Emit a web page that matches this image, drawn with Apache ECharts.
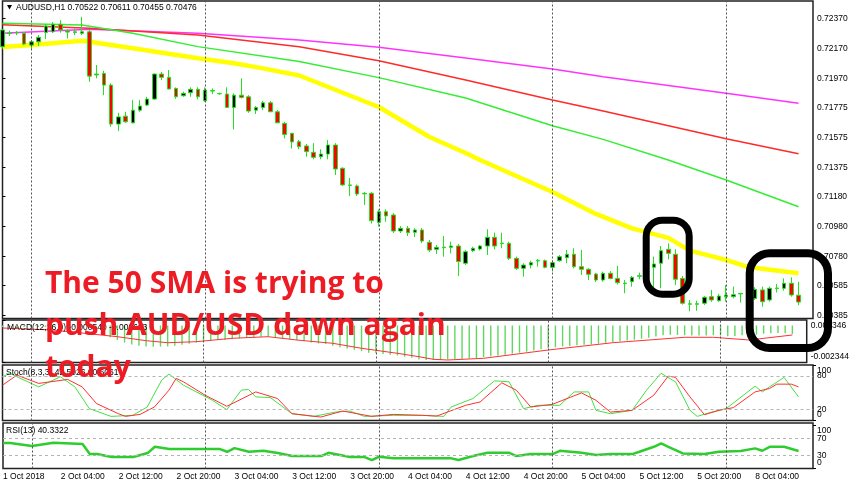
<!DOCTYPE html>
<html><head><meta charset="utf-8">
<script src="https://cdn.jsdelivr.net/npm/echarts@6/dist/echarts.min.js"></script>
<style>html,body{margin:0;padding:0;background:#fff}#c{width:852px;height:485px}</style>
</head><body><div id="c"></div>
<script>
// ---------- DATA ----------
// Hourly bars, index 0 = 1 Oct 2018 20:00 ... index 110 = 8 Oct 2018 10:00
const candles = [ // [open, close, low, high]
[0.72180,0.72292,0.72175,0.72298],[0.72268,0.72272,0.72252,0.72287],[0.72272,0.72276,0.72258,0.72285],
[0.72270,0.72198,0.72191,0.72278],[0.72191,0.72213,0.72158,0.72225],[0.72213,0.72243,0.72185,0.72258],
[0.72276,0.72318,0.72231,0.72332],[0.72280,0.72330,0.72272,0.72345],[0.72330,0.72292,0.72274,0.72358],
[0.72285,0.72278,0.72236,0.72296],[0.72276,0.72280,0.72258,0.72303],[0.72270,0.72280,0.72258,0.72380],
[0.72280,0.71984,0.71946,0.72296],[0.71998,0.71992,0.71969,0.72058],[0.72002,0.71924,0.71857,0.72020],
[0.71924,0.71664,0.71646,0.71936],[0.71664,0.71712,0.71617,0.71739],[0.71717,0.71679,0.71672,0.71746],
[0.71672,0.71757,0.71668,0.71824],[0.71757,0.71784,0.71746,0.71824],[0.71791,0.71831,0.71784,0.71846],
[0.71831,0.71998,0.71824,0.72002],[0.71998,0.71976,0.71958,0.72013],[0.71976,0.71898,0.71896,0.72025],
[0.71902,0.71846,0.71833,0.71909],[0.71853,0.71869,0.71846,0.71880],[0.71873,0.71896,0.71846,0.71909],
[0.71896,0.71846,0.71829,0.71909],[0.71819,0.71891,0.71813,0.71909],[0.71888,0.71884,0.71864,0.71902],
[0.71868,0.71866,0.71860,0.71873],[0.71864,0.71775,0.71773,0.71909],[0.71775,0.71857,0.71628,0.71869],
[0.71857,0.71842,0.71835,0.71969],[0.71846,0.71751,0.71739,0.71857],[0.71757,0.71775,0.71731,0.71784],
[0.71775,0.71806,0.71757,0.71819],[0.71806,0.71746,0.71746,0.71819],[0.71746,0.71672,0.71672,0.71757],
[0.71668,0.71595,0.71568,0.71679],[0.71602,0.71545,0.71501,0.71606],[0.71546,0.71513,0.71496,0.71558],
[0.71518,0.71480,0.71446,0.71531],[0.71476,0.71442,0.71429,0.71537],[0.71446,0.71464,0.71429,0.71496],
[0.71464,0.71524,0.71429,0.71558],[0.71524,0.71364,0.71324,0.71537],[0.71369,0.71258,0.71251,0.71375],
[0.71258,0.71254,0.71184,0.71304],[0.71251,0.71197,0.71184,0.71260],[0.71202,0.71198,0.71124,0.71210],
[0.71202,0.71019,0.71000,0.71210],[0.71008,0.71079,0.70979,0.71095],[0.71079,0.71051,0.71012,0.71095],
[0.71057,0.70950,0.70937,0.71070],[0.70950,0.70968,0.70937,0.70984],[0.70968,0.70939,0.70917,0.70984],
[0.70942,0.70957,0.70910,0.70970],[0.70957,0.70883,0.70870,0.70970],[0.70875,0.70823,0.70810,0.70890],
[0.70828,0.70841,0.70797,0.70857],[0.70843,0.70839,0.70779,0.70917],[0.70841,0.70850,0.70801,0.70879],
[0.70850,0.70746,0.70650,0.70864],[0.70735,0.70812,0.70723,0.70823],[0.70819,0.70835,0.70810,0.70845],
[0.70830,0.70850,0.70820,0.70857],[0.70850,0.70908,0.70790,0.70962],[0.70908,0.70850,0.70828,0.70939],
[0.70870,0.70866,0.70835,0.70939],[0.70868,0.70768,0.70757,0.70879],[0.70768,0.70701,0.70690,0.70779],
[0.70701,0.70723,0.70645,0.70735],[0.70723,0.70739,0.70701,0.70752],[0.70750,0.70754,0.70712,0.70763],
[0.70752,0.70708,0.70701,0.70760],[0.70708,0.70739,0.70680,0.70755],[0.70752,0.70779,0.70745,0.70790],
[0.70772,0.70795,0.70735,0.70823],[0.70795,0.70712,0.70701,0.70835],[0.70712,0.70695,0.70657,0.70823],
[0.70695,0.70661,0.70623,0.70701],[0.70663,0.70623,0.70610,0.70670],[0.70623,0.70668,0.70612,0.70679],
[0.70668,0.70634,0.70628,0.70683],[0.70634,0.70605,0.70593,0.70717],[0.70603,0.70599,0.70535,0.70623],
[0.70612,0.70641,0.70579,0.70650],[0.70648,0.70652,0.70628,0.70672],[0.70656,0.70700,0.70640,0.70712],
[0.70708,0.70730,0.70568,0.70779],[0.70735,0.70819,0.70568,0.70850],[0.70828,0.70801,0.70761,0.70868],
[0.70795,0.70628,0.70590,0.70828],[0.70634,0.70468,0.70459,0.70650],[0.70465,0.70461,0.70414,0.70490],
[0.70461,0.70465,0.70418,0.70485],[0.70468,0.70508,0.70456,0.70516],[0.70512,0.70490,0.70478,0.70557],
[0.70485,0.70516,0.70478,0.70530],[0.70512,0.70523,0.70478,0.70590],[0.70512,0.70525,0.70501,0.70579],
[0.70534,0.70530,0.70472,0.70536],[0.70530,0.70500,0.70490,0.70545],[0.70500,0.70561,0.70490,0.70575],
[0.70557,0.70478,0.70445,0.70579],[0.70490,0.70568,0.70478,0.70579],[0.70566,0.70570,0.70540,0.70597],
[0.70568,0.70601,0.70552,0.70634],[0.70601,0.70523,0.70512,0.70641],[0.70522,0.70476,0.70455,0.70611]
];
// moving averages: [bar index, value]
const smaYellow = [[0,0.72179],[4,0.72192],[11,0.72220],[12,0.72214],[18,0.72170],[27,0.72103],[32,0.72070],[36,0.72036],[41,0.71988],[52,0.71778],[59,0.71578],[64,0.71471],[66,0.71424],[76,0.71211],[82,0.71064],[87,0.70968],[92,0.70904],[95,0.70819],[100,0.70757],[103,0.70710],[110,0.70668]];
const smaGreen = [[0,0.72337],[11,0.72325],[18,0.72270],[27,0.72181],[41,0.72081],[52,0.71974],[64,0.71838],[76,0.71653],[83,0.71562],[92,0.71424],[100,0.71291],[110,0.71112]];
const smaRed = [[0,0.72327],[12,0.72303],[27,0.72259],[41,0.72180],[52,0.72087],[64,0.71958],[76,0.71825],[83,0.71751],[100,0.71566],[110,0.71466]];
const smaMagenta = [[0,0.72270],[12,0.72297],[27,0.72270],[41,0.72225],[52,0.72176],[64,0.72105],[76,0.72032],[83,0.71980],[100,0.71869],[110,0.71803]];
const bidPrice = 0.70476;
const priceTicks = [0.72370,0.72170,0.71970,0.71775,0.71575,0.71375,0.71180,0.70980,0.70780,0.70585,0.70385];

const macdHist = [-0.00010,-0.00010,-0.00010,-0.00010,-0.00010,-0.00010,-0.00009,-0.00008,-0.00008,-0.00008,-0.00008,-0.00008,
-0.00015,-0.00035,-0.00052,-0.00075,-0.00092,-0.00108,-0.00120,-0.00128,-0.00133,-0.00134,-0.00134,-0.00133,-0.00128,-0.00122,-0.00115,-0.00108,
-0.00100,-0.00095,-0.00092,-0.00092,-0.00088,-0.00082,-0.00078,-0.00074,-0.00071,-0.00072,-0.00076,-0.00082,-0.00088,-0.00093,-0.00100,-0.00108,
-0.00114,-0.00117,-0.00128,-0.00138,-0.00146,-0.00154,-0.00162,-0.00172,-0.00176,-0.00180,-0.00186,-0.00190,-0.00198,-0.00205,-0.00215,-0.00218,
-0.00219,-0.00218,-0.00215,-0.00214,-0.00212,-0.00209,-0.00206,-0.00200,-0.00195,-0.00190,-0.00185,-0.00178,-0.00172,-0.00165,-0.00158,-0.00150,
-0.00143,-0.00138,-0.00133,-0.00130,-0.00126,-0.00122,-0.00120,-0.00115,-0.00110,-0.00104,-0.00100,-0.00095,-0.00090,-0.00084,-0.00078,-0.00070,
-0.00062,-0.00058,-0.00060,-0.00062,-0.00064,-0.00064,-0.00063,-0.00062,-0.00064,-0.00068,-0.00066,-0.00062,-0.00058,-0.00058,-0.00052,-0.00050,
-0.00048,-0.00050,-0.00054];
const macdSignal = [[0,-0.000160],[7,-0.000287],[16,-0.000711],[20,-0.000964],[23,-0.001091],[27,-0.001027],[32,-0.000812],[37,-0.000711],[41,-0.000920],[46,-0.001129],[50,-0.001445],[55,-0.001762],[58,-0.001977],[60,-0.002141],[62,-0.002186],[67,-0.002078],[76,-0.001553],[85,-0.001091],[95,-0.000749],[99,-0.000749],[104,-0.000920],[110,-0.000603]];
const macdTicks = [0.000346,-0.002344];

const stochK = [[0,78.8],[1,85],[5,60.6],[8,78.8],[10,60.6],[12,21.4],[15,7.4],[18,9.3],[20,24.3],[22,72.8],[23,83.7],[25,63.7],[29,36.5],[31,19.6],[33,54.6],[34,55.9],[35,42.5],[37,41.4],[40,12.3],[43,7.4],[46,15.2],[48,17.1],[50,7.4],[54,9.3],[58,9.3],[61,7.4],[62,24.3],[65,39.6],[68,71.5],[70,69.7],[72,21.4],[74,27.4],[77,27.4],[79,51.5],[81,51.5],[82,18.3],[84,12.3],[87,18.3],[89,54.6],[91,85],[93,69.7],[95,18.3],[96,7.4],[98,15.2],[100,21.4],[104,61.9],[105,51.5],[106,60.6],[108,77.7],[110,42.5]];
const stochD = [[0,63.7],[2,81.8],[5,66.8],[9,74],[11,60.6],[13,30.5],[16,12.3],[17,7.4],[19,11],[21,24.3],[23,54.6],[24,75.9],[25,69.7],[28,45.6],[31,25.6],[35,51.5],[38,39.6],[40,12.3],[44,6.2],[47,17.1],[49,12.3],[51,7.4],[54,11],[58,9.3],[60,8],[64,27.4],[66,33.4],[69,67.9],[71,54.6],[73,24.3],[76,29.2],[80,49.7],[82,36.5],[84,15.2],[87,18.3],[90,45.6],[92,80],[93,77.7],[95,42.5],[97,10.5],[99,18.3],[101,23.2],[104,51.5],[106,57.7],[107,65.5],[109,65.5],[110,60.6]];
const stochLevels = [80,20];      // level lines and their labels
const stochEnds = [100,0];        // scale top / bottom labels

const rsi = [[0,58.6],[1,58.6],[4,51.7],[7,59.3],[11,56.3],[12,33.3],[13,33.3],[15,26.4],[18,26.4],[20,35.6],[21,50.1],[23,44.8],[27,44.8],[30,44.8],[31,38.6],[32,47.1],[34,38.6],[36,40.9],[38,35.6],[40,28.7],[44,28.7],[45,36.3],[48,26.4],[50,26.4],[51,19.5],[52,27.1],[54,23.4],[62,23.4],[63,19.5],[65,28.7],[67,36.3],[70,36.3],[71,28.7],[73,33.3],[76,33.3],[77,40.9],[80,36.3],[82,31],[84,33.3],[87,33.3],[88,38.6],[90,50.1],[91,57.9],[92,50.1],[94,34.9],[97,33.3],[99,38.6],[102,40.2],[104,46.4],[105,40.9],[106,50.1],[108,50.1],[110,40.3]];
const rsiLevels = [70,30];
const rsiEnds = [100,0];

const dayLines = [4,28,52,76,100]; // 2,3,4,5,8 Oct 00:00
const xLabelPos = [0,8,16,24,32,40,48,56,64,72,80,88,96,104];
const xLabelText = ['1 Oct 2018','2 Oct 04:00','2 Oct 12:00','2 Oct 20:00','3 Oct 04:00','3 Oct 12:00','3 Oct 20:00','4 Oct 04:00','4 Oct 12:00','4 Oct 20:00','5 Oct 04:00','5 Oct 12:00','5 Oct 20:00','8 Oct 04:00'];

const headerMain = 'AUDUSD,H1 0.70522 0.70611 0.70455 0.70476';
const headerMacd = 'MACD(12,26,9) -0.000540 -0.000603';
const headerStoch = 'Stoch(8,3,3) 42.5926 60.6061';
const headerRsi = 'RSI(13) 40.3322';
const noteLines = ['The 50 SMA is trying to','push AUD/USD dawn again','today'];

// ---------- CHART ----------
const FONT = 'Liberation Sans';
const chart = echarts.init(document.getElementById('c'));
const L = 2.5, W = 810.5;
const gridDefs = [[1,317.5],[320,42.5],[365,55.5],[423,45.5]];
const grids = gridDefs.map(g => ({show:true, left:L, width:W, top:g[0], height:g[1], borderColor:'#222', borderWidth:1.5, backgroundColor:'#fff'}));
const xAxes = gridDefs.map((g,k) => ({
  type:'value', gridIndex:k, min:0, max:112,
  axisLine:{show:false}, axisTick:{show:false}, splitLine:{show:false},
  axisLabel: k===3 ? {show:true, showMinLabel:true, showMaxLabel:true, customValues:xLabelPos, formatter:v=>xLabelText[xLabelPos.indexOf(v)], align:'left', margin:4, fontSize:8.5, fontFamily:FONT, color:'#000'} : {show:false}
}));
function yAx(k, min, max, ticks, fmt){
  return {type:'value', gridIndex:k, position:'right', min, max, scale:true,
    splitLine:{show:false}, axisLine:{show:false},
    axisTick:{show:true, customValues:ticks, length:3, lineStyle:{color:'#000'}},
    axisLabel:{show:true, showMinLabel:true, showMaxLabel:true, hideOverlap:false, customValues:ticks, formatter:fmt, margin:4, fontSize:8.5, fontFamily:FONT, color:'#000', lineHeight:11}};
}
// extreme labels sit just inside the panel: pad with an empty line
const endFmt = v => v > 0 ? '\n' + v : v + '\n';
const yAxes = [
  yAx(0, 0.703662, 0.724855, priceTicks, v=>v.toFixed(5)),
  yAx(1, -0.002344, 0.000346, macdTicks, v=> v>0 ? '\n'+v.toFixed(6) : v.toFixed(6)+'\n'),
  yAx(2, 0, 100, stochLevels, v=>String(v)),
  yAx(3, 0, 105, rsiLevels, v=>String(v)),
  yAx(2, 0, 100, stochEnds, endFmt),
  yAx(3, 0, 105, rsiEnds, endFmt)
];
const dayMark = extra => ({silent:true, symbol:['none','none'], animation:false, label:{show:false},
  lineStyle:{color:'#555', type:[2,2], width:1},
  data: dayLines.map(v=>({xAxis:v})).concat(extra||[])});
const levelItems = arr => arr.map(v=>({yAxis:v, lineStyle:{color:'#b4b4b4', type:[3,3], width:1}}));

const series = [
  {type:'line', name:'SMA magenta', xAxisIndex:0, yAxisIndex:0, data:smaMagenta, showSymbol:false, lineStyle:{color:'#ff33ff', width:1.5}, z:2},
  {type:'line', name:'SMA red', xAxisIndex:0, yAxisIndex:0, data:smaRed, showSymbol:false, lineStyle:{color:'#ff2a2a', width:1.5}, z:2},
  {type:'line', name:'SMA green', xAxisIndex:0, yAxisIndex:0, data:smaGreen, showSymbol:false, lineStyle:{color:'#33ee33', width:1.5}, z:2},
  {type:'line', name:'SMA 50', xAxisIndex:0, yAxisIndex:0, data:smaYellow, showSymbol:false, lineStyle:{color:'#ffff00', width:4.5}, z:2},
  {type:'candlestick', xAxisIndex:0, yAxisIndex:0, clip:false, barWidth:4,
    data: candles.map((c,i)=>[i,c[0],c[1],c[2],c[3]]),
    itemStyle:{color:'#000', color0:'#ff0000', borderColor:'#22e022', borderColor0:'#22e022', borderWidth:1},
    markLine: dayMark([{yAxis:bidPrice, lineStyle:{color:'#c3c8cf', type:'solid', width:1.5},
      label:{show:true, position:'end', formatter:bidPrice.toFixed(5), color:'#fff', backgroundColor:'#000', padding:[1,3,1,3], fontSize:8.5, fontFamily:FONT, distance:2}}]),
    z:3},
  {type:'bar', xAxisIndex:1, yAxisIndex:1, data: macdHist.map((v,i)=>[i,v]), barWidth:1.4, itemStyle:{color:'#5fd85f'}, markLine: dayMark()},
  {type:'line', xAxisIndex:1, yAxisIndex:1, data: macdSignal, showSymbol:false, lineStyle:{color:'#ff3030', width:1}},
  {type:'line', xAxisIndex:2, yAxisIndex:2, data: stochK, showSymbol:false, lineStyle:{color:'#44e044', width:1}, markLine: dayMark(levelItems(stochLevels))},
  {type:'line', xAxisIndex:2, yAxisIndex:2, data: stochD, showSymbol:false, lineStyle:{color:'#ff3030', width:1}},
  {type:'line', xAxisIndex:3, yAxisIndex:3, data: rsi, showSymbol:false, lineStyle:{color:'#2ecc2e', width:2.5}, markLine: dayMark(levelItems(rsiLevels))}
];

const txt = (x,y,text,extra) => ({type:'text', x, y, z:50, style:Object.assign({text, fill:'#000', fontSize:8.5, fontFamily:FONT, verticalAlign:'middle', align:'left'}, extra||{})});
const graphic = [
  {type:'polygon', z:50, shape:{points:[[7,5],[12,5],[9.5,9.5]]}, style:{fill:'#000'}},
  txt(16,7.5,headerMain),
  txt(7,328,headerMacd),
  txt(6,373,headerStoch),
  txt(6,431,headerRsi),
  {type:'rect', z:100, shape:{x:646.2, y:220.2, width:43, height:74, r:16}, style:{fill:'none', stroke:'#000', lineWidth:7}},
  {type:'rect', z:100, shape:{x:749.7, y:253.3, width:78.3, height:94.7, r:20}, style:{fill:'none', stroke:'#000', lineWidth:8}}
].concat(noteLines.map((t,k)=>txt(45, 284 + k*42, t, {fill:'#ed1c24', fontSize:30, fontWeight:'bold', fontFamily:'Open Sans'})));

chart.setOption({animation:false, backgroundColor:'#fff', grid:grids, xAxis:xAxes, yAxis:yAxes, series, graphic});
</script></body></html>
